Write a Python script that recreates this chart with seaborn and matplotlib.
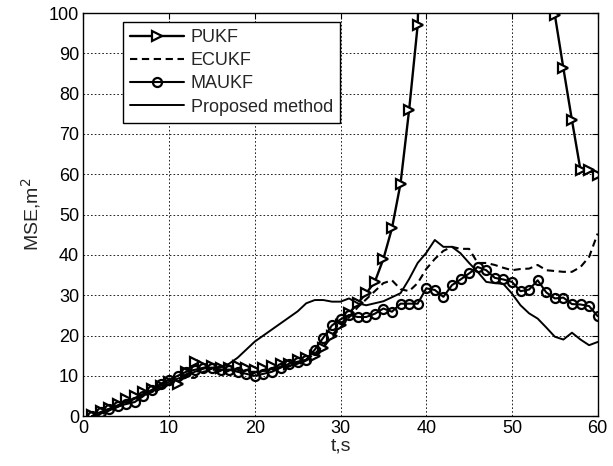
import numpy as np
import pandas as pd
import matplotlib
matplotlib.use("Agg")
import matplotlib.pyplot as plt
import seaborn as sns

t = list(range(1, 61))

pukf = [0.3, 1.2, 2.0, 3.0, 4.2, 5.0, 6.0, 6.8, 7.5, 8.5,
        8.0, 11.0, 13.5, 12.5, 12.5, 12.0, 12.0, 12.5, 12.0, 11.5,
        12.0, 12.5, 13.0, 13.0, 14.0, 14.5, 15.0, 17.0, 20.0, 22.5,
        25.5, 28.0, 30.5, 33.3, 39.0, 46.6, 57.7, 75.9, 97.0, 170.0,
        200.0, 220.0, 240.0, 250.0, 260.0, 260.0, 255.0, 250.0, 240.0, 220.0,
        200.0, 170.0, 150.0, 125.0, 99.6, 86.3, 73.4, 61.0, 61.0, 59.8]

ecukf = [0.0, 0.8, 1.5, 2.3, 3.2, 4.0, 5.0, 6.0, 7.0, 8.0,
         9.0, 9.5, 9.5, 11.0, 11.5, 11.5, 11.5, 11.5, 11.0, 11.0,
         11.2, 11.5, 12.0, 12.5, 13.0, 14.0, 15.5, 17.5, 19.5, 22.0,
         24.5, 27.0, 29.0, 31.0, 33.0, 33.7, 31.5, 31.0, 33.0, 36.5,
         39.0, 41.0, 42.0, 41.5, 41.5, 38.0, 38.0, 37.5, 36.8, 36.2,
         36.5, 36.6, 37.5, 36.2, 36.0, 35.8, 35.8, 37.0, 39.5, 45.3]

maukf = [0.0, 1.0, 1.8, 2.5, 3.0, 3.5, 5.0, 6.5, 8.0, 9.0,
         10.0, 11.0, 11.5, 12.0, 12.0, 11.5, 11.5, 11.0, 10.5, 10.0,
         10.5, 11.0, 12.0, 13.0, 13.5, 14.0, 16.5, 19.5, 22.5, 24.0,
         25.1, 24.6, 24.6, 25.4, 26.7, 25.9, 27.9, 27.9, 27.9, 31.7,
         31.3, 29.6, 32.5, 33.9, 35.4, 37.0, 36.2, 34.3, 33.9, 33.3,
         31.0, 31.4, 33.7, 30.7, 29.2, 29.4, 27.8, 27.7, 27.3, 24.8]

proposed = [0.0, 0.9, 1.8, 2.7, 3.6, 4.5, 5.5, 6.5, 7.5, 8.5,
            9.3, 10.0, 11.0, 11.8, 12.0, 12.0, 13.0, 14.5, 16.5, 18.5,
            20.0, 21.5, 23.0, 24.5, 26.0, 28.0, 28.8, 28.8, 28.4, 28.4,
            29.2, 28.0, 27.5, 28.0, 28.5, 29.5, 30.5, 34.0, 38.0, 40.5,
            43.7, 42.0, 42.0, 40.4, 38.0, 35.8, 33.3, 33.0, 32.8, 30.4,
            27.5, 25.5, 24.2, 22.0, 19.7, 19.0, 20.7, 19.0, 17.6, 18.4]

xticks = [0, 10, 20, 30, 40, 50, 60]
yticks = [0, 10, 20, 30, 40, 50, 60, 70, 80, 90, 100]

sns.set_style("white")
plt.rcParams['font.family'] = ['Liberation Sans', 'DejaVu Sans']
plt.rcParams['font.size'] = 13

fig = plt.figure(figsize=(6.13, 4.66), dpi=100)
ax = fig.add_axes([0.136, 0.107, 0.839, 0.865])

df = pd.DataFrame({"t": t, "PUKF": pukf, "ECUKF": ecukf,
                   "MAUKF": maukf, "Proposed method": proposed})

sns.lineplot(data=df, x="t", y="PUKF", ax=ax, color="black", linewidth=1.7,
             marker=">", markersize=7, markerfacecolor="white",
             markeredgecolor="black", markeredgewidth=1.6, label="PUKF")
sns.lineplot(data=df, x="t", y="ECUKF", ax=ax, color="black", linewidth=1.5,
             linestyle=(0, (3.5, 2.2)), label="ECUKF")
sns.lineplot(data=df, x="t", y="MAUKF", ax=ax, color="black", linewidth=1.5,
             marker="o", markersize=6.5, markerfacecolor="none",
             markeredgecolor="black", markeredgewidth=1.6, label="MAUKF")
sns.lineplot(data=df, x="t", y="Proposed method", ax=ax, color="black",
             linewidth=1.4, label="Proposed method")

ax.set_xlim(0, 60)
ax.set_ylim(0, 100)
ax.set_xticks(xticks)
ax.set_yticks(yticks)
ax.set_xlabel("t,s", fontsize=14, labelpad=0)
ax.set_ylabel("MSE,m$^2$", fontsize=14, labelpad=4)
ax.grid(True, color="black", linestyle=(0, (2, 2.5)), linewidth=0.6)
for s in ax.spines.values():
    s.set_color("black")
    s.set_linewidth(1.0)
ax.tick_params(direction="in", length=4, width=0.8, top=True, right=True,
               colors="black", labelsize=13, pad=3)

leg = ax.legend(loc="upper left", bbox_to_anchor=(0.077, 0.978),
                frameon=True, fancybox=False, framealpha=1,
                edgecolor="black", handlelength=3.0, fontsize=13,
                borderpad=0.4, labelspacing=0.34, handletextpad=0.35,
                borderaxespad=0)
leg.get_frame().set_linewidth(1.0)

fig.savefig("out.png", dpi=100)
